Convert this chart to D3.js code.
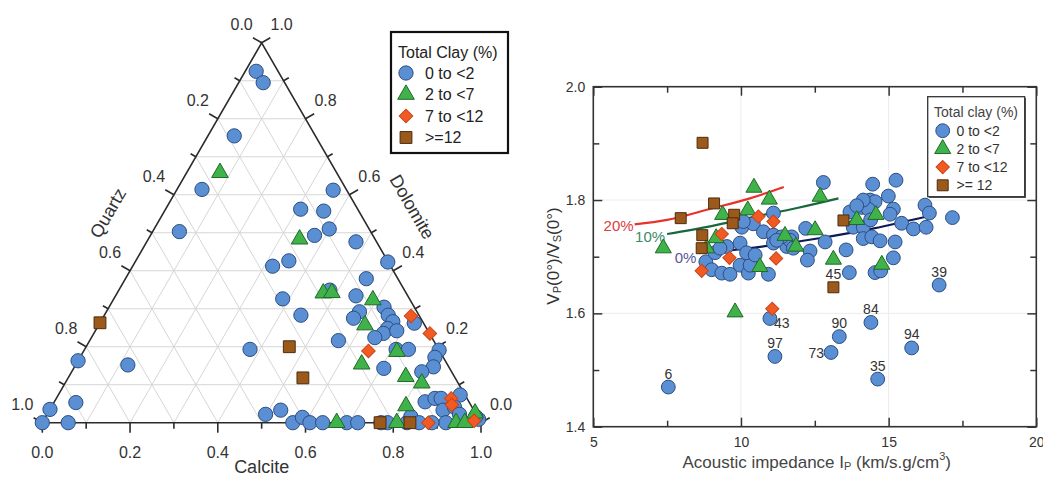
<!DOCTYPE html>
<html><head><meta charset="utf-8">
<script src="https://cdn.jsdelivr.net/npm/d3@7"></script>
<style>
body{margin:0;background:#fff}
svg{display:block;font-family:"Liberation Sans",Arial,Helvetica,sans-serif}
</style>
</head><body>
<svg id="chart" width="1043" height="482"></svg>
<script>
// ---------------- DATA ----------------
const clayClasses = ["0 to <2", "2 to <7", "7 to <12", ">=12"];
const clayClassesRight = ["0 to <2", "2 to <7", "7 to <12", ">= 12"];
const ternaryTickValues = [0,0.1,0.2,0.3,0.4,0.5,0.6,0.7,0.8,0.9,1.0];
const ternaryAxisNames = ["Calcite", "Quartz", "Dolomite"];

// ternary samples: [calcite, dolomite]  (quartz = 1 - calcite - dolomite)
const ternClay0 = [[0.025,0.925],[0.056,0.895],[0.060,0.755],[0.057,0.614],[0.061,0.503],[0.357,0.612],[0.308,0.562],[0.363,0.557],[0.399,0.510],[0.374,0.493],[0.477,0.476],[0.349,0.426],[0.319,0.412],[0.576,0.423],[0.549,0.379],[0.385,0.326],[0.481,0.349],[0.548,0.334],[0.448,0.283],[0.577,0.292],[0.572,0.275],[0.627,0.304],[0.647,0.283],[0.666,0.266],[0.717,0.262],[0.663,0.248],[0.660,0.235],[0.687,0.242],[0.646,0.224],[0.567,0.216],[0.377,0.193],[0.710,0.193],[0.738,0.193],[0.809,0.191],[0.809,0.172],[0.818,0.147],[0.798,0.134],[0.707,0.143],[0.000,0.163],[0.119,0.152],[0.050,0.053],[0.000,0.035],[0.000,0.000],[0.059,0.000],[0.498,0.022],[0.527,0.033],[0.571,0.000],[0.586,0.014],[0.610,0.000],[0.639,0.000],[0.694,0.000],[0.719,0.000],[0.772,0.000],[0.787,0.000],[0.831,0.000],[0.832,0.016],[0.859,0.000],[0.845,0.055],[0.863,0.064],[0.877,0.064],[0.916,0.073],[0.897,0.033],[0.919,0.041],[0.940,0.022],[0.920,0.000],[0.990,0.009],[0.980,0.016],[0.888,0.000]];
const ternClay2 = [[0.076,0.658],[0.345,0.483],[0.470,0.341],[0.489,0.342],[0.592,0.323],[0.607,0.257],[0.715,0.187],[0.651,0.154],[0.768,0.121],[0.813,0.104],[0.807,0.044],[0.671,0],[0.808,0],[0.943,0],[0.963,0],[0.974,0.025]];
const ternClay7 = [[0.700,0.281],[0.766,0.235],[0.649,0.189],[0.900,0.064],[0.910,0.047],[0.880,0],[0.982,0.005]];
const ternClay12 = [[0.000,0.263],[0.463,0.200],[0.535,0.118],[0.838,0],[0.770,0]];

// scatter: [acoustic impedance, Vp/Vs]
const xTicks = [5,10,15,20];
const xMinorTicks = [7.5,12.5,17.5];
const yTicks = [1.4,1.6,1.8,2.0];
const yMinorTicks = [1.5,1.7,1.9];
const scClay0 = [[7.54,1.470],[10.98,1.591],[11.15,1.524],[13.05,1.531],[13.33,1.559],[14.40,1.584],[14.63,1.484],[15.78,1.539],[16.71,1.650],
[12.79,1.831],[14.46,1.828],[15.25,1.835],[14.99,1.807],[13.69,1.779],[14.09,1.787],[14.37,1.800],[14.54,1.797],[14.31,1.784],[15.16,1.784],[15.05,1.775],[16.23,1.791],[16.38,1.777],[17.16,1.769],[15.44,1.759],[15.84,1.749],[16.27,1.752],[13.80,1.752],[14.14,1.752],[14.39,1.765],[12.19,1.750],[12.85,1.726],[14.14,1.732],[14.43,1.735],[14.71,1.728],[15.22,1.726],[13.56,1.712],[15.16,1.698],[12.34,1.710],[12.25,1.694],[13.67,1.672],[14.54,1.672],[14.73,1.675],
[11.10,1.777],[10.03,1.752],[10.42,1.758],[10.76,1.744],[11.10,1.738],[11.72,1.735],[8.81,1.691],[9.01,1.677],[9.35,1.671],[9.63,1.669],[9.97,1.685],[10.25,1.671],[10.31,1.685],[10.93,1.669],[9.52,1.718],[9.97,1.724],[10.19,1.707],[10.48,1.703],[9.12,1.707],[11.55,1.718],[11.66,1.729],[11.38,1.735],[11.10,1.724],[11.21,1.729],[11.77,1.715],[10.08,1.762],[9.29,1.715],[14.14,1.800],[13.92,1.790]];
const scClay2 = [[7.37,1.715],[10.44,1.822],[10.96,1.801],[9.38,1.774],[10.23,1.782],[9.16,1.733],[8.84,1.715],[10.64,1.682],[9.80,1.602],[11.49,1.737],[11.86,1.718],[12.51,1.747],[12.68,1.806],[13.13,1.695],[13.92,1.765],[14.57,1.774],[14.77,1.686]];
const scClay7 = [[9.35,1.740],[8.67,1.675],[9.61,1.698],[10.59,1.771],[11.10,1.762],[11.19,1.697],[11.06,1.608]];
const scClay12 = [[8.70,1.901],[7.96,1.768],[9.09,1.794],[9.77,1.774],[9.72,1.759],[8.69,1.738],[8.67,1.715],[13.47,1.764],[13.13,1.646]];
const sampleLabels = [["6",7.54,1.470,"above"],["43",10.98,1.591,"right"],["97",11.15,1.524,"above"],["73",13.05,1.531,"left"],["90",13.33,1.559,"above"],["84",14.40,1.584,"above"],["35",14.63,1.484,"above"],["94",15.78,1.539,"above"],["39",16.71,1.650,"above"],["45",13.13,1.646,"above"]];
const curveNames = ["20%","10%","0%"];
const curve20 = [[6.4,1.757],[7.5,1.765],[9.0,1.785],[10.3,1.803],[11.45,1.823]];
const curve10 = [[7.5,1.740],[9.0,1.754],[10.4,1.770],[11.9,1.786],[13.3,1.803]];
const curve0 = [[9.1,1.708],[10.9,1.719],[12.7,1.733],[14.5,1.750],[16.3,1.771]];

// ---------------- STYLE ----------------
const styles = [
  {type:d3.symbolCircle, fill:"#5b8fd4", stroke:"#2c4d80"},
  {type:d3.symbolTriangle, fill:"#3fb24a", stroke:"#1f6a28"},
  {type:"diamond", fill:"#f25a24", stroke:"#c8441a"},
  {type:d3.symbolSquare, fill:"#9b5a1c", stroke:"#4d2b0c"}
];
const ternSizes = [160,120,92,140];
const scSizes = [150,112,88,120];
const svg = d3.select("#chart");
function drawMarkers(g, data, st, px, py, size){
  g.selectAll(null).data(data).enter().append("path")
    .attr("d", d3.symbol().type(st.type === "diamond" ? d3.symbolSquare : st.type).size(size)())
    .attr("fill", st.fill).attr("stroke", st.stroke).attr("stroke-width", 1)
    .attr("transform", d => `translate(${px(d)},${py(d)})` + (st.type === "diamond" ? " rotate(45)" : ""));
}

// ---------------- TERNARY ----------------
const tx = d3.scaleLinear().domain([0,1]).range([42.3,481]);
const ty = d3.scaleLinear().domain([0,1]).range([422.7,42.8]);
const T = (c,d) => [tx(c + d/2), ty(d)];
const tg = svg.append("g");

// grid
const inner = ternaryTickValues.filter(v => v > 0 && v < 1);
const gridLines = [];
inner.forEach(v => {
  gridLines.push([T(0,v), T(1-v,v)]);        // constant dolomite
  gridLines.push([T(v,0), T(v,1-v)]);        // constant calcite
  gridLines.push([T(1-v,0), T(0,1-v)]);      // constant quartz
});
tg.selectAll(null).data(gridLines).enter().append("line")
  .attr("x1",d=>d[0][0]).attr("y1",d=>d[0][1]).attr("x2",d=>d[1][0]).attr("y2",d=>d[1][1])
  .attr("stroke","#d6d6d6").attr("stroke-width",1);

// triangle
tg.append("path").attr("d", d3.line()([T(0,0),T(1,0),T(0,1)]) + "Z")
  .attr("fill","none").attr("stroke","#2b2b2b").attr("stroke-width",1.6);

// ticks
const isMajor = v => Math.round(v*10) % 2 === 0;
const n = Math.sqrt(3)/2;
const axesDef = [
  {pt: v => T(v,0), dir:[0,1], lab:[0,30]},            // calcite
  {pt: v => T(0,1-v), dir:[-n,-0.5], lab:[-20,-18]},   // quartz
  {pt: v => T(1-v,v), dir:[n,-0.5], lab:[20,-18]}      // dolomite
];
axesDef.forEach(ax => {
  ternaryTickValues.forEach(v => {
    const p = ax.pt(v), L = isMajor(v) ? 10 : 6;
    tg.append("line").attr("x1",p[0]).attr("y1",p[1])
      .attr("x2",p[0]+ax.dir[0]*L).attr("y2",p[1]+ax.dir[1]*L)
      .attr("stroke","#2b2b2b").attr("stroke-width",1.6);
    if (isMajor(v)) {
      tg.append("text").attr("x",p[0]+ax.lab[0]).attr("y",p[1]+ax.lab[1])
        .attr("text-anchor","middle").attr("dominant-baseline","central")
        .attr("font-size",16).attr("fill","#333").text(d3.format(".1f")(v));
    }
  });
});
tg.append("text").attr("x",T(0.5,0)[0]).attr("y",467).attr("text-anchor","middle")
  .attr("dominant-baseline","central").attr("font-size",18).attr("fill","#333").text(ternaryAxisNames[0]);
tg.append("text").attr("transform","translate(108,213) rotate(-60)").attr("text-anchor","middle")
  .attr("dominant-baseline","central").attr("font-size",18).attr("fill","#333").text(ternaryAxisNames[1]);
tg.append("text").attr("transform","translate(412,207) rotate(60)").attr("text-anchor","middle")
  .attr("dominant-baseline","central").attr("font-size",18).attr("fill","#333").text(ternaryAxisNames[2]);

// points
[ternClay0, ternClay2, ternClay7, ternClay12].forEach((data,i) => {
  drawMarkers(tg, data, styles[i], d => T(d[0],d[1])[0], d => T(d[0],d[1])[1], ternSizes[i]);
});

// legend
const lg = svg.append("g");
lg.append("rect").attr("x",391).attr("y",32).attr("width",117).attr("height",121)
  .attr("fill","#fff").attr("stroke","#111").attr("stroke-width",2.2);
lg.append("text").attr("x",398).attr("y",52).attr("dominant-baseline","central")
  .attr("font-size",16).attr("fill","#222").text("Total Clay (%)");
clayClasses.forEach((c,i) => {
  const y = 73 + i*21.5;
  drawMarkers(lg, [0], styles[i], () => 406, () => y, ternSizes[i]);
  lg.append("text").attr("x",425).attr("y",y).attr("dominant-baseline","central")
    .attr("font-size",16).attr("fill","#222").text(c);
});

// ---------------- SCATTER ----------------
const L = 593.3, R = 1036.3, TOP = 86.7, BOT = 426.7;
const x = d3.scaleLinear().domain([5,20]).range([L,R]);
const y = d3.scaleLinear().domain([1.4,2.0]).range([BOT,TOP]);
const sg = svg.append("g");

// grid
sg.selectAll(null).data(xTicks.slice(1,-1)).enter().append("line")
  .attr("x1",d=>x(d)).attr("x2",d=>x(d)).attr("y1",TOP).attr("y2",BOT)
  .attr("stroke","#ececec").attr("stroke-width",1);
sg.selectAll(null).data(yTicks.slice(1,-1)).enter().append("line")
  .attr("y1",d=>y(d)).attr("y2",d=>y(d)).attr("x1",L).attr("x2",R)
  .attr("stroke","#ececec").attr("stroke-width",1);

function styleAxis(g){
  g.select(".domain").remove();
  g.selectAll("line").attr("stroke","#333").attr("stroke-width",1.5);
  g.selectAll("text").attr("fill","#333").attr("font-size",14).attr("font-family","Liberation Sans, Arial, sans-serif");
}
sg.append("g").attr("transform",`translate(0,${BOT})`)
  .call(d3.axisBottom(x).tickValues(xTicks).tickSize(-9).tickPadding(10).tickFormat(d3.format("d"))).call(styleAxis);
sg.append("g").attr("transform",`translate(0,${BOT})`)
  .call(d3.axisBottom(x).tickValues(xMinorTicks).tickSize(-6).tickFormat("")).call(styleAxis);
sg.append("g").attr("transform",`translate(0,${TOP})`)
  .call(d3.axisTop(x).tickValues(xTicks).tickSize(-9).tickFormat("")).call(styleAxis);
sg.append("g").attr("transform",`translate(0,${TOP})`)
  .call(d3.axisTop(x).tickValues(xMinorTicks).tickSize(-6).tickFormat("")).call(styleAxis);
sg.append("g").attr("transform",`translate(${L},0)`)
  .call(d3.axisLeft(y).tickValues(yTicks).tickSize(-9).tickPadding(8).tickFormat(d3.format(".1f"))).call(styleAxis);
sg.append("g").attr("transform",`translate(${L},0)`)
  .call(d3.axisLeft(y).tickValues(yMinorTicks).tickSize(-6).tickFormat("")).call(styleAxis);
sg.append("g").attr("transform",`translate(${R},0)`)
  .call(d3.axisRight(y).tickValues(yTicks).tickSize(-9).tickFormat("")).call(styleAxis);
sg.append("g").attr("transform",`translate(${R},0)`)
  .call(d3.axisRight(y).tickValues(yMinorTicks).tickSize(-6).tickFormat("")).call(styleAxis);

sg.append("rect").attr("x",L).attr("y",TOP).attr("width",R-L).attr("height",BOT-TOP)
  .attr("fill","none").attr("stroke","#333").attr("stroke-width",1.6);

// curves
const line = d3.line().x(d=>x(d[0])).y(d=>y(d[1])).curve(d3.curveMonotoneX);
const curves = [curve20, curve10, curve0];
const curveColors = ["#e8322c","#17683a","#0d1a58"];
const curveLabelColors = ["#d9403d","#3a8a68","#56579a"];
const curveLabelOffsets = [[-1,1],[-2,2],[-18,5]];
curves.forEach((c,i) => {
  sg.append("path").attr("d", line(c)).attr("fill","none")
    .attr("stroke",curveColors[i]).attr("stroke-width",2.2);
  sg.append("text").attr("x", x(c[0][0]) + curveLabelOffsets[i][0])
    .attr("y", y(c[0][1]) + curveLabelOffsets[i][1])
    .attr("text-anchor","end").attr("dominant-baseline","central")
    .attr("font-size",15).attr("fill",curveLabelColors[i]).text(curveNames[i]);
});

// points
[scClay0, scClay2, scClay7, scClay12].forEach((data,i) => {
  drawMarkers(sg, data, styles[i], d => x(d[0]), d => y(d[1]), scSizes[i]);
});

// sample labels
sampleLabels.forEach(s => {
  const px = x(s[1]), py = y(s[2]);
  let lx = px, ly = py - 13.5, anchor = "middle";
  if (s[3] === "right") { lx = px + 4; ly = py + 4.5; anchor = "start"; }
  if (s[3] === "left") { lx = px - 7; ly = py + 1; anchor = "end"; }
  sg.append("text").attr("x",lx).attr("y",ly).attr("text-anchor",anchor)
    .attr("dominant-baseline","central").attr("font-size",14).attr("fill","#333").text(s[0]);
});

// legend
const rl = svg.append("g");
rl.append("rect").attr("x",929).attr("y",98).attr("width",97).attr("height",100).attr("fill","#555");
rl.append("rect").attr("x",927.7).attr("y",96.7).attr("width",97).attr("height",100)
  .attr("fill","#fff").attr("stroke","#333").attr("stroke-width",1.3);
rl.append("text").attr("x",934).attr("y",112).attr("dominant-baseline","central")
  .attr("font-size",14).attr("fill","#444").text("Total clay (%)");
clayClassesRight.forEach((c,i) => {
  const yy = 130.7 + i*18.2;
  drawMarkers(rl, [0], styles[i], () => 942.7, () => yy, scSizes[i]);
  rl.append("text").attr("x",956.5).attr("y",yy).attr("dominant-baseline","central")
    .attr("font-size",14).attr("fill","#333").text(c);
});

// axis titles
const xt = svg.append("text").attr("x",816.7).attr("y",462).attr("text-anchor","middle")
  .attr("dominant-baseline","central").attr("font-size",17).attr("fill","#444");
xt.append("tspan").text("Acoustic impedance I");
xt.append("tspan").attr("font-size",11).attr("dy",4).text("P");
xt.append("tspan").attr("dy",-4).text(" (km/s.g/cm");
xt.append("tspan").attr("font-size",11).attr("dy",-6).text("3");
xt.append("tspan").attr("dy",6).text(")");

const yt = svg.append("text").attr("transform","translate(553,256) rotate(-90)").attr("text-anchor","middle")
  .attr("dominant-baseline","central").attr("font-size",17).attr("fill","#333");
yt.append("tspan").text("V");
yt.append("tspan").attr("font-size",11).attr("dy",4).text("P");
yt.append("tspan").attr("dy",-4).text("(0°)/V");
yt.append("tspan").attr("font-size",11).attr("dy",4).text("S");
yt.append("tspan").attr("dy",-4).text("(0°)");
</script>
</body></html>
